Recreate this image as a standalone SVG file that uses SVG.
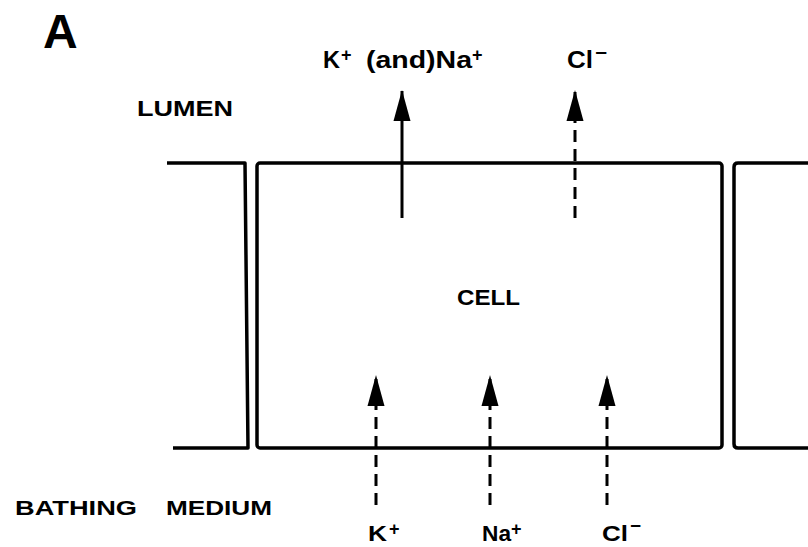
<svg xmlns="http://www.w3.org/2000/svg" width="808" height="547" viewBox="0 0 808 547">
<style>
.t{font-family:"Liberation Sans",Arial,sans-serif;font-weight:bold;fill:#000}
.s{font-family:"Liberation Sans",Arial,sans-serif;font-weight:bold;fill:#000;font-size:18px}
.wall{fill:none;stroke:#000;stroke-width:3.5;stroke-linejoin:round}
.flow{stroke:#000;stroke-width:3;fill:none}
.dash{stroke-dasharray:12 7}
</style>
<defs>
<marker id="ah" markerUnits="userSpaceOnUse" markerWidth="32" markerHeight="18" viewBox="0 0 32 18" refX="30" refY="9" orient="auto">
<path d="M0,0.5 L31,9 L0,17.5 Z" fill="#000"/>
</marker>
</defs>
<rect width="808" height="547" fill="#fff"/>
<text class="t" x="43" y="48" font-size="48">A</text>
<text class="t" x="137" y="116" font-size="22" textLength="96" lengthAdjust="spacingAndGlyphs">LUMEN</text>
<text class="t" x="15" y="515" font-size="21" textLength="122" lengthAdjust="spacingAndGlyphs">BATHING</text>
<text class="t" x="166" y="515" font-size="21" textLength="106" lengthAdjust="spacingAndGlyphs">MEDIUM</text>
<g id="cell-left">
<path class="wall" d="M167,163 H245 L248,448 H173"/>
</g>
<g id="cell-main">
<rect class="wall" x="257" y="163" width="465" height="285" rx="3"/>
<text class="t" x="457" y="305" font-size="22" textLength="63" lengthAdjust="spacingAndGlyphs">CELL</text>
</g>
<g id="cell-right">
<path class="wall" d="M808,163 H738 Q734,163 734,167 V444 Q734,448 738,448 H808"/>
</g>
<g id="labels-top">
<text class="t" x="323" y="68" font-size="23" textLength="17" lengthAdjust="spacingAndGlyphs">K</text>
<text class="s" x="341" y="61">+</text>
<text class="t" x="366" y="68" font-size="23" textLength="106" lengthAdjust="spacingAndGlyphs">(and)Na</text>
<text class="s" x="472" y="61">+</text>
<text class="t" x="567" y="68" font-size="23" textLength="26" lengthAdjust="spacingAndGlyphs">Cl</text>
<text class="s" x="595" y="59" textLength="12" lengthAdjust="spacingAndGlyphs">−</text>
</g>
<g id="labels-bottom">
<text class="t" x="368" y="541" font-size="22" textLength="19" lengthAdjust="spacingAndGlyphs">K</text>
<text class="s" x="389" y="535">+</text>
<text class="t" x="482" y="541" font-size="22" textLength="29" lengthAdjust="spacingAndGlyphs">Na</text>
<text class="s" x="511" y="535">+</text>
<text class="t" x="602" y="541" font-size="22" textLength="26" lengthAdjust="spacingAndGlyphs">Cl</text>
<text class="s" x="630" y="532" textLength="11" lengthAdjust="spacingAndGlyphs">−</text>
</g>
<g id="connectors">
<line class="flow" x1="402" y1="218" x2="402" y2="91" marker-end="url(#ah)"/>
<line class="flow dash" x1="575" y1="218" x2="575" y2="91" marker-end="url(#ah)"/>
<line class="flow dash" x1="376" y1="505" x2="376" y2="376" marker-end="url(#ah)"/>
<line class="flow dash" x1="490" y1="505" x2="490" y2="376" marker-end="url(#ah)"/>
<line class="flow dash" x1="607" y1="505" x2="607" y2="376" marker-end="url(#ah)"/>
</g>
</svg>
